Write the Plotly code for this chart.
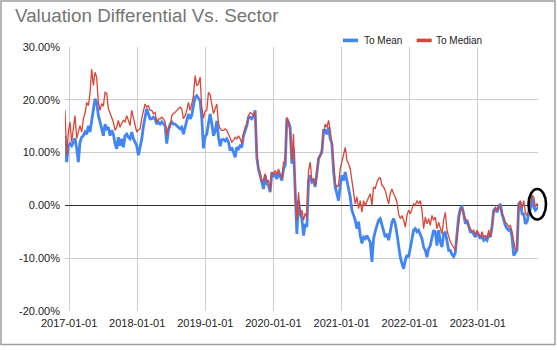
import plotly.graph_objects as go
import pandas as pd

# Sampled series (percent), evenly spaced in time from the first to last observation
to_mean = [
    13.2, 8.2, 11.3, 11.7, 11.3, 12.0, 12.7, 10.8, 8.2, 12.0,
    12.9, 13.2, 13.9, 13.5, 15.1, 13.9, 15.8, 18.3, 20.2, 19.5,
    17.0, 15.8, 14.2, 13.2, 15.4, 14.5, 14.8, 13.2, 14.2, 13.5,
    11.7, 10.7, 12.9, 11.3, 12.6, 11.0, 13.2, 13.5, 12.9, 12.6,
    13.9, 12.6, 12.0, 11.3, 9.5, 11.0, 12.5, 15.0, 16.7, 18.3,
    17.3, 16.4, 16.4, 16.7, 16.4, 15.4, 15.8, 15.4, 15.8, 15.4,
    15.1, 11.7, 14.2, 15.4, 15.8, 15.4, 15.4, 15.1, 14.8, 14.5,
    14.8, 13.5, 14.8, 16.1, 17.3, 16.4, 17.0, 18.9, 20.5, 20.8,
    20.2, 19.8, 16.5, 10.8, 13.0, 13.5, 15.5, 17.3, 15.5, 13.2,
    14.0, 16.0, 13.0, 11.2, 12.4, 12.5, 12.2, 12.6, 12.0, 10.4,
    11.0, 10.1, 9.1, 11.0, 10.7, 11.3, 11.0, 13.2, 14.2, 15.1,
    16.7, 16.7, 16.4, 17.0, 18.0, 9.0, 6.9, 5.7, 4.1, 3.1,
    5.7, 4.1, 3.8, 2.5, 6.3, 5.4, 6.0, 5.0, 6.3, 5.4,
    4.7, 6.9, 7.6, 16.4, 15.8, 14.8, 7.9, 11.0, 1.0, -5.4,
    0.9, -1.6, -2.5, -5.7, -3.5, -4.1, 4.7, 5.7, 4.4, 4.7,
    3.5, 6.3, 8.8, 9.5, 10.1, 14.2, 14.2, 13.5, 14.8, 12.6,
    11.7, 6.6, 3.5, 2.2, 0.9, 3.8, 5.7, 4.7, 6.3, 4.7,
    3.1, 1.6, -0.9, -1.9, -2.8, -4.4, -3.1, -5.7, -7.2, -6.0,
    -6.3, -5.7, -6.3, -7.0, -10.7, -6.3, -4.9, -3.8, -2.8, -2.5,
    -3.8, -5.0, -6.0, -5.4, -6.6, -5.0, -3.2, -2.5, -3.5, -5.4,
    -7.9, -9.8, -11.0, -12.0, -10.4, -9.4, -9.8, -8.2, -6.6, -4.7,
    -4.4, -5.0, -4.7, -5.4, -6.3, -7.9, -8.5, -9.8, -8.2, -7.6,
    -6.0, -4.7, -5.0, -7.6, -4.7, -6.9, -7.9, -5.4, -5.0, -7.2,
    -8.5, -8.5, -9.3, -9.7, -9.0, -5.4, -2.2, -0.6, -0.3, -1.6,
    -3.5, -2.8, -4.1, -5.0, -5.0, -5.4, -6.0, -5.0, -5.7, -6.3,
    -5.7, -6.6, -6.3, -6.6, -5.4, -6.0, -4.1, -0.9, -0.6, -1.3,
    -0.3, 0.3, -1.6, -2.8, -3.8, -4.4, -4.7, -4.4, -6.0, -9.5,
    -9.1, -8.5, 0.3, 0.6, -1.6, -1.6, -3.5, -3.1, -1.6, -0.6,
    1.6, -0.3, -0.9, -0.6, -0.3,
]

to_median = [
    18.0, 9.5, 13.9, 15.8, 12.0, 14.8, 17.0, 12.7, 13.9, 15.1,
    13.9, 16.4, 17.4, 19.5, 18.9, 21.2, 25.8, 22.7, 25.2, 24.3,
    19.5, 18.0, 19.3, 18.8, 21.4, 21.2, 18.3, 17.4, 16.4, 15.8,
    14.2, 14.8, 16.1, 14.8, 15.5, 16.1, 15.8, 17.0, 16.1, 15.1,
    18.0, 16.4, 14.8, 13.9, 14.3, 14.5, 16.5, 18.0, 19.2, 18.6,
    18.9, 18.0, 18.0, 17.4, 17.6, 15.8, 16.4, 16.4, 16.7, 16.4,
    15.8, 13.2, 14.8, 14.8, 17.0, 17.4, 17.6, 18.0, 18.3, 18.6,
    18.3, 16.4, 17.0, 18.0, 19.5, 18.0, 19.2, 20.8, 24.6, 22.7,
    23.0, 24.3, 18.5, 16.5, 17.8, 18.0, 21.4, 21.0, 19.2, 17.4,
    18.3, 19.2, 15.5, 14.5, 14.2, 14.2, 14.5, 14.2, 13.5, 12.9,
    12.0, 12.3, 12.9, 12.6, 13.2, 12.6, 11.7, 13.5, 14.8, 15.4,
    17.0, 17.6, 17.4, 17.0, 17.6, 10.0, 7.2, 6.2, 4.5, 4.8,
    6.0, 4.4, 4.8, 2.8, 6.3, 5.8, 6.6, 5.9, 6.9, 5.9,
    5.0, 8.2, 8.2, 16.7, 15.8, 13.5, 8.5, 13.5, 1.5, -2.8,
    2.5, -1.9, -0.9, -2.8, -1.5, -2.3, 6.6, 8.2, 4.7, 5.0,
    3.8, 5.7, 9.1, 9.3, 10.7, 13.5, 15.4, 14.8, 16.1, 14.2,
    11.7, 7.9, 4.1, 3.5, 3.8, 6.9, 8.5, 9.5, 11.0, 8.5,
    7.9, 6.9, 4.4, 2.2, 0.3, 1.6, -0.6, 0.9, -1.3, 0.9,
    -0.1, 0.8, 1.6, 2.2, 0.0, 3.5, 3.2, 4.4, 5.0, 5.3,
    3.8, 3.5, 2.8, 1.6, 0.3, 2.2, 3.1, 2.2, 1.6, 0.6,
    -1.6, -2.5, -1.9, -2.8, -4.1, -1.9, -0.9, -1.6, -0.6, 0.3,
    0.0, 0.9, 0.3, 0.9, -0.9, -4.4, -2.2, -3.5, -2.5, -3.8,
    -1.9, -2.8, -2.2, -4.4, -3.2, -4.4, -5.4, -2.8, -1.3, -4.7,
    -5.7, -6.9, -7.4, -7.9, -8.5, -6.0, -3.2, -0.9, -0.6, -1.6,
    -2.5, -2.8, -3.8, -4.4, -5.0, -4.7, -5.7, -4.7, -5.4, -6.0,
    -5.0, -6.0, -5.7, -6.3, -4.7, -6.0, -3.8, -1.3, -0.3, -0.9,
    0.0, -0.3, -1.6, -2.2, -3.2, -3.5, -4.1, -3.8, -5.0, -7.2,
    -8.5, -8.0, 0.3, 0.9, -0.6, 0.9, -1.3, -2.0, -0.9, 0.6,
    1.9, 1.6, -0.3, 0.3, 0.0,
]

x_ticks = ["2017-01-01", "2018-01-01", "2019-01-01", "2020-01-01",
           "2021-01-01", "2022-01-01", "2023-01-01"]
y_ticks = [-20, -10, 0, 10, 20, 30]
y_tick_labels = ["-20.00%", "-10.00%", "0.00%", "10.00%", "20.00%", "30.00%"]

n = min(len(to_mean), len(to_median))
dates = pd.date_range("2016-12-09 22:00", periods=n, freq="12876min")

BLUE = "#4285F4"
RED = "#DB4437"
FONT = "Arial, Liberation Sans, sans-serif"

fig = go.Figure()
fig.add_trace(go.Scatter(x=dates, y=to_mean[:n], mode="lines", name="To Mean",
                         line=dict(color=BLUE, width=2.8)))
fig.add_trace(go.Scatter(x=dates, y=to_median[:n], mode="lines", name="To Median",
                         line=dict(color=RED, width=1.3)))

L, R, T, B = 65, 19, 47, 39
W, H = 557, 350
pw, ph = W - L - R, H - T - B

def px(x):
    return (x - L) / pw

def py(y):
    return (H - B - y) / ph

shapes = [
    # outer chart border
    dict(type="rect", xref="paper", yref="paper", x0=px(1), x1=px(555), y0=py(344.5), y1=py(1),
         line=dict(color="#9E9E9E", width=1.5), fillcolor="rgba(0,0,0,0)", layer="below"),
    # legend swatches
    dict(type="rect", xref="paper", yref="paper", x0=px(343), x1=px(358), y0=py(42.2), y1=py(38.6),
         line=dict(width=0), fillcolor=BLUE),
    dict(type="rect", xref="paper", yref="paper", x0=px(416.7), x1=px(431.7), y0=py(42.2), y1=py(38.6),
         line=dict(width=0), fillcolor=RED),
    # hand-drawn ellipse highlight
    dict(type="circle", xref="paper", yref="paper", x0=px(528.5), x1=px(546), y0=py(219.5), y1=py(189),
         line=dict(color="black", width=2.6)),
]

annotations = [
    dict(text="To Mean", xref="paper", yref="paper", x=px(361.5), y=py(40.4), xanchor="left",
         yanchor="middle", showarrow=False, font=dict(family=FONT, size=10, color="#222222")),
    dict(text="To Median", xref="paper", yref="paper", x=px(434), y=py(40.4), xanchor="left",
         yanchor="middle", showarrow=False, font=dict(family=FONT, size=10, color="#222222")),
]

fig.update_layout(
    width=W, height=H,
    margin=dict(l=L, r=R, t=T, b=B, pad=0),
    paper_bgcolor="white", plot_bgcolor="white",
    showlegend=False,
    title=dict(text="Valuation Differential Vs. Sector", x=15 / W, xanchor="left",
               xref="container", yref="container", y=1 - 9 / H, yanchor="top",
               font=dict(family=FONT, size=18.8, color="#757575")),
    shapes=shapes,
    annotations=annotations,
    xaxis=dict(type="date", range=["2016-12-09 22:00", "2023-11-19 12:00"],
               tickmode="array", tickvals=x_ticks, ticktext=x_ticks,
               showgrid=True, gridcolor="#CCCCCC", gridwidth=1, showline=False, zeroline=False,
               ticks="", ticklabelstandoff=4,
               tickfont=dict(family=FONT, size=11, color="#222222")),
    yaxis=dict(range=[-20, 30], tickmode="array", tickvals=y_ticks, ticktext=y_tick_labels,
               showgrid=True, gridcolor="#CCCCCC", gridwidth=1, showline=False,
               zeroline=True, zerolinecolor="#333333", zerolinewidth=1,
               ticks="", ticklabelstandoff=4,
               tickfont=dict(family=FONT, size=11, color="#222222")),
)

fig.write_html("out.html", config={"displayModeBar": False})
